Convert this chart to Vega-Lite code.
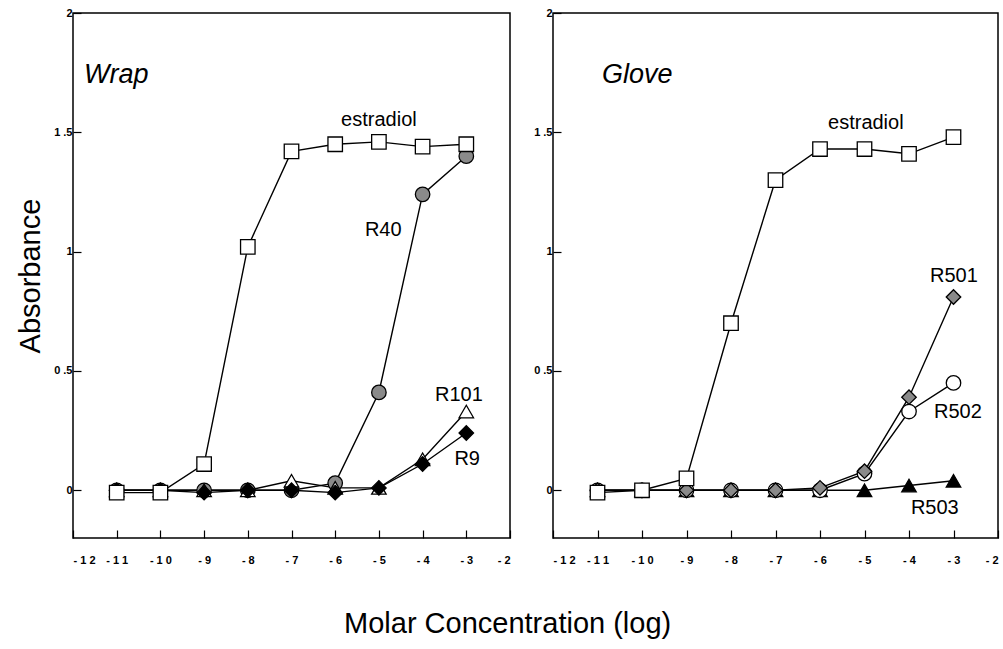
{
  "$schema": "https://vega.github.io/schema/vega-lite/v6.json",
  "background": "white",
  "padding": {"left": 15, "top": 6, "right": 2, "bottom": 10},
  "title": {"text": "Molar Concentration (log)", "orient": "bottom", "anchor": "middle", "fontSize": 29, "fontWeight": "normal", "font": "Liberation Sans", "color": "black", "offset": 44},
  "datasets": {
    "pts": [
      {"panel": "Wrap", "series": "R40", "x": -11, "y": 0},
      {"panel": "Wrap", "series": "R40", "x": -10, "y": 0},
      {"panel": "Wrap", "series": "R40", "x": -9, "y": 0},
      {"panel": "Wrap", "series": "R40", "x": -8, "y": 0},
      {"panel": "Wrap", "series": "R40", "x": -7, "y": 0},
      {"panel": "Wrap", "series": "R40", "x": -6, "y": 0.03},
      {"panel": "Wrap", "series": "R40", "x": -5, "y": 0.41},
      {"panel": "Wrap", "series": "R40", "x": -4, "y": 1.24},
      {"panel": "Wrap", "series": "R40", "x": -3, "y": 1.4},
      {"panel": "Wrap", "series": "R101", "x": -11, "y": 0},
      {"panel": "Wrap", "series": "R101", "x": -10, "y": 0},
      {"panel": "Wrap", "series": "R101", "x": -9, "y": 0},
      {"panel": "Wrap", "series": "R101", "x": -8, "y": 0},
      {"panel": "Wrap", "series": "R101", "x": -7, "y": 0.04},
      {"panel": "Wrap", "series": "R101", "x": -6, "y": 0.01},
      {"panel": "Wrap", "series": "R101", "x": -5, "y": 0.01},
      {"panel": "Wrap", "series": "R101", "x": -4, "y": 0.13},
      {"panel": "Wrap", "series": "R101", "x": -3, "y": 0.33},
      {"panel": "Wrap", "series": "R9", "x": -11, "y": 0},
      {"panel": "Wrap", "series": "R9", "x": -10, "y": 0},
      {"panel": "Wrap", "series": "R9", "x": -9, "y": -0.01},
      {"panel": "Wrap", "series": "R9", "x": -8, "y": 0},
      {"panel": "Wrap", "series": "R9", "x": -7, "y": 0},
      {"panel": "Wrap", "series": "R9", "x": -6, "y": -0.01},
      {"panel": "Wrap", "series": "R9", "x": -5, "y": 0.01},
      {"panel": "Wrap", "series": "R9", "x": -4, "y": 0.11},
      {"panel": "Wrap", "series": "R9", "x": -3, "y": 0.24},
      {"panel": "Wrap", "series": "estradiol", "x": -11, "y": -0.01},
      {"panel": "Wrap", "series": "estradiol", "x": -10, "y": -0.01},
      {"panel": "Wrap", "series": "estradiol", "x": -9, "y": 0.11},
      {"panel": "Wrap", "series": "estradiol", "x": -8, "y": 1.02},
      {"panel": "Wrap", "series": "estradiol", "x": -7, "y": 1.42},
      {"panel": "Wrap", "series": "estradiol", "x": -6, "y": 1.45},
      {"panel": "Wrap", "series": "estradiol", "x": -5, "y": 1.46},
      {"panel": "Wrap", "series": "estradiol", "x": -4, "y": 1.44},
      {"panel": "Wrap", "series": "estradiol", "x": -3, "y": 1.45},
      {"panel": "Glove", "series": "R503", "x": -11, "y": 0},
      {"panel": "Glove", "series": "R503", "x": -10, "y": 0},
      {"panel": "Glove", "series": "R503", "x": -9, "y": 0},
      {"panel": "Glove", "series": "R503", "x": -8, "y": 0},
      {"panel": "Glove", "series": "R503", "x": -7, "y": 0},
      {"panel": "Glove", "series": "R503", "x": -6, "y": 0},
      {"panel": "Glove", "series": "R503", "x": -5, "y": 0},
      {"panel": "Glove", "series": "R503", "x": -4, "y": 0.02},
      {"panel": "Glove", "series": "R503", "x": -3, "y": 0.04},
      {"panel": "Glove", "series": "R502", "x": -11, "y": 0},
      {"panel": "Glove", "series": "R502", "x": -10, "y": 0},
      {"panel": "Glove", "series": "R502", "x": -9, "y": 0},
      {"panel": "Glove", "series": "R502", "x": -8, "y": 0},
      {"panel": "Glove", "series": "R502", "x": -7, "y": 0},
      {"panel": "Glove", "series": "R502", "x": -6, "y": 0},
      {"panel": "Glove", "series": "R502", "x": -5, "y": 0.07},
      {"panel": "Glove", "series": "R502", "x": -4, "y": 0.33},
      {"panel": "Glove", "series": "R502", "x": -3, "y": 0.45},
      {"panel": "Glove", "series": "R501", "x": -11, "y": 0},
      {"panel": "Glove", "series": "R501", "x": -10, "y": 0},
      {"panel": "Glove", "series": "R501", "x": -9, "y": 0},
      {"panel": "Glove", "series": "R501", "x": -8, "y": 0},
      {"panel": "Glove", "series": "R501", "x": -7, "y": 0},
      {"panel": "Glove", "series": "R501", "x": -6, "y": 0.01},
      {"panel": "Glove", "series": "R501", "x": -5, "y": 0.08},
      {"panel": "Glove", "series": "R501", "x": -4, "y": 0.39},
      {"panel": "Glove", "series": "R501", "x": -3, "y": 0.81},
      {"panel": "Glove", "series": "estradiol", "x": -11, "y": -0.01},
      {"panel": "Glove", "series": "estradiol", "x": -10, "y": 0},
      {"panel": "Glove", "series": "estradiol", "x": -9, "y": 0.05},
      {"panel": "Glove", "series": "estradiol", "x": -8, "y": 0.7},
      {"panel": "Glove", "series": "estradiol", "x": -7, "y": 1.3},
      {"panel": "Glove", "series": "estradiol", "x": -6, "y": 1.43},
      {"panel": "Glove", "series": "estradiol", "x": -5, "y": 1.43},
      {"panel": "Glove", "series": "estradiol", "x": -4, "y": 1.41},
      {"panel": "Glove", "series": "estradiol", "x": -3, "y": 1.48}
    ],
    "labels": [
      {"panel": "Wrap", "text": "estradiol", "x": -5.0, "y": 1.55},
      {"panel": "Wrap", "text": "R40", "x": -4.9, "y": 1.09},
      {"panel": "Wrap", "text": "R101", "x": -3.17, "y": 0.4},
      {"panel": "Wrap", "text": "R9", "x": -2.98, "y": 0.13},
      {"panel": "Glove", "text": "estradiol", "x": -4.97, "y": 1.54},
      {"panel": "Glove", "text": "R501", "x": -2.99, "y": 0.9},
      {"panel": "Glove", "text": "R502", "x": -2.9, "y": 0.33},
      {"panel": "Glove", "text": "R503", "x": -3.42, "y": -0.075}
    ],
    "titles": [
      {"panel": "Wrap", "text": "Wrap", "x": -11.75, "y": 1.74},
      {"panel": "Glove", "text": "Glove", "x": -10.9, "y": 1.74}
    ]
  },
  "config": {
    "font": "Liberation Sans",
    "view": {"stroke": "black", "strokeWidth": 1.5},
    "axis": {"grid": false, "domain": false, "tickColor": "black", "tickSize": -8, "tickWidth": 1.2, "labelColor": "black", "labelFont": "Liberation Sans", "labelFontSize": 11, "labelFontWeight": "bold", "labelOverlap": false}
  },
  "spacing": 20,
  "hconcat": [
    {
      "width": 437,
      "height": 525,
      "layer": [
        {
          "data": {"name": "pts"},
          "transform": [{"filter": "datum.panel === 'Wrap'"}],
          "mark": {"type": "line", "color": "black", "strokeWidth": 1.4},
          "encoding": {
            "x": {"field": "x", "type": "quantitative", "scale": {"domain": [-12, -2], "nice": false}, "axis": {"values": [-12, -11, -10, -9, -8, -7, -6, -5, -4, -3, -2], "title": null, "labelPadding": 24, "labelExpr": "join(split(toString(datum.value), ''), ' ')"}},
            "y": {"field": "y", "type": "quantitative", "scale": {"domain": [-0.2, 2], "nice": false, "zero": false}, "axis": {"values": [0, 0.5, 1, 1.5, 2], "title": "Absorbance", "titleFontSize": 29, "titleFontWeight": "normal", "titleFont": "Liberation Sans", "titleColor": "black", "titlePadding": 8, "labelPadding": 9, "labelExpr": "replace(toString(datum.value), '.', ' .')"}},
            "detail": {"field": "series"}
          }
        },
        {
          "data": {"name": "pts"},
          "transform": [{"filter": "datum.panel === 'Wrap'"}],
          "mark": {"type": "point", "stroke": "black", "strokeWidth": 1.3, "opacity": 1, "filled": false},
          "encoding": {
            "x": {"field": "x", "type": "quantitative"},
            "y": {"field": "y", "type": "quantitative"},
            "shape": {"field": "series", "type": "nominal", "legend": null, "scale": {"domain": ["estradiol", "R40", "R101", "R9", "R501", "R502", "R503"], "range": ["square", "circle", "triangle-up", "diamond", "diamond", "circle", "triangle-up"]}},
            "fill": {"field": "series", "type": "nominal", "legend": null, "scale": {"domain": ["estradiol", "R40", "R101", "R9", "R501", "R502", "R503"], "range": ["white", "#8a8a8a", "white", "black", "#8a8a8a", "white", "black"]}},
            "size": {"value": 210}
          }
        },
        {
          "data": {"name": "labels"},
          "transform": [{"filter": "datum.panel === 'Wrap'"}],
          "mark": {"type": "text", "fontSize": 20, "align": "center", "baseline": "middle", "color": "black"},
          "encoding": {
            "x": {"field": "x", "type": "quantitative"},
            "y": {"field": "y", "type": "quantitative"},
            "text": {"field": "text"}
          }
        },
        {
          "data": {"name": "titles"},
          "transform": [{"filter": "datum.panel === 'Wrap'"}],
          "mark": {"type": "text", "fontSize": 27, "fontStyle": "italic", "align": "left", "baseline": "middle", "color": "black"},
          "encoding": {
            "x": {"field": "x", "type": "quantitative"},
            "y": {"field": "y", "type": "quantitative"},
            "text": {"field": "text"}
          }
        }
      ]
    },
    {
      "width": 445,
      "height": 525,
      "layer": [
        {
          "data": {"name": "pts"},
          "transform": [{"filter": "datum.panel === 'Glove'"}],
          "mark": {"type": "line", "color": "black", "strokeWidth": 1.4},
          "encoding": {
            "x": {"field": "x", "type": "quantitative", "scale": {"domain": [-12, -2], "nice": false}, "axis": {"values": [-12, -11, -10, -9, -8, -7, -6, -5, -4, -3, -2], "title": null, "labelPadding": 24, "labelExpr": "join(split(toString(datum.value), ''), ' ')"}},
            "y": {"field": "y", "type": "quantitative", "scale": {"domain": [-0.2, 2], "nice": false, "zero": false}, "axis": {"values": [0, 0.5, 1, 1.5, 2], "title": null, "labelPadding": 9, "labelExpr": "replace(toString(datum.value), '.', ' .')"}},
            "detail": {"field": "series"}
          }
        },
        {
          "data": {"name": "pts"},
          "transform": [{"filter": "datum.panel === 'Glove'"}],
          "mark": {"type": "point", "stroke": "black", "strokeWidth": 1.3, "opacity": 1, "filled": false},
          "encoding": {
            "x": {"field": "x", "type": "quantitative"},
            "y": {"field": "y", "type": "quantitative"},
            "shape": {"field": "series", "type": "nominal", "legend": null, "scale": {"domain": ["estradiol", "R40", "R101", "R9", "R501", "R502", "R503"], "range": ["square", "circle", "triangle-up", "diamond", "diamond", "circle", "triangle-up"]}},
            "fill": {"field": "series", "type": "nominal", "legend": null, "scale": {"domain": ["estradiol", "R40", "R101", "R9", "R501", "R502", "R503"], "range": ["white", "#8a8a8a", "white", "black", "#8a8a8a", "white", "black"]}},
            "size": {"value": 210}
          }
        },
        {
          "data": {"name": "labels"},
          "transform": [{"filter": "datum.panel === 'Glove'"}],
          "mark": {"type": "text", "fontSize": 20, "align": "center", "baseline": "middle", "color": "black"},
          "encoding": {
            "x": {"field": "x", "type": "quantitative"},
            "y": {"field": "y", "type": "quantitative"},
            "text": {"field": "text"}
          }
        },
        {
          "data": {"name": "titles"},
          "transform": [{"filter": "datum.panel === 'Glove'"}],
          "mark": {"type": "text", "fontSize": 27, "fontStyle": "italic", "align": "left", "baseline": "middle", "color": "black"},
          "encoding": {
            "x": {"field": "x", "type": "quantitative"},
            "y": {"field": "y", "type": "quantitative"},
            "text": {"field": "text"}
          }
        }
      ]
    }
  ]
}
